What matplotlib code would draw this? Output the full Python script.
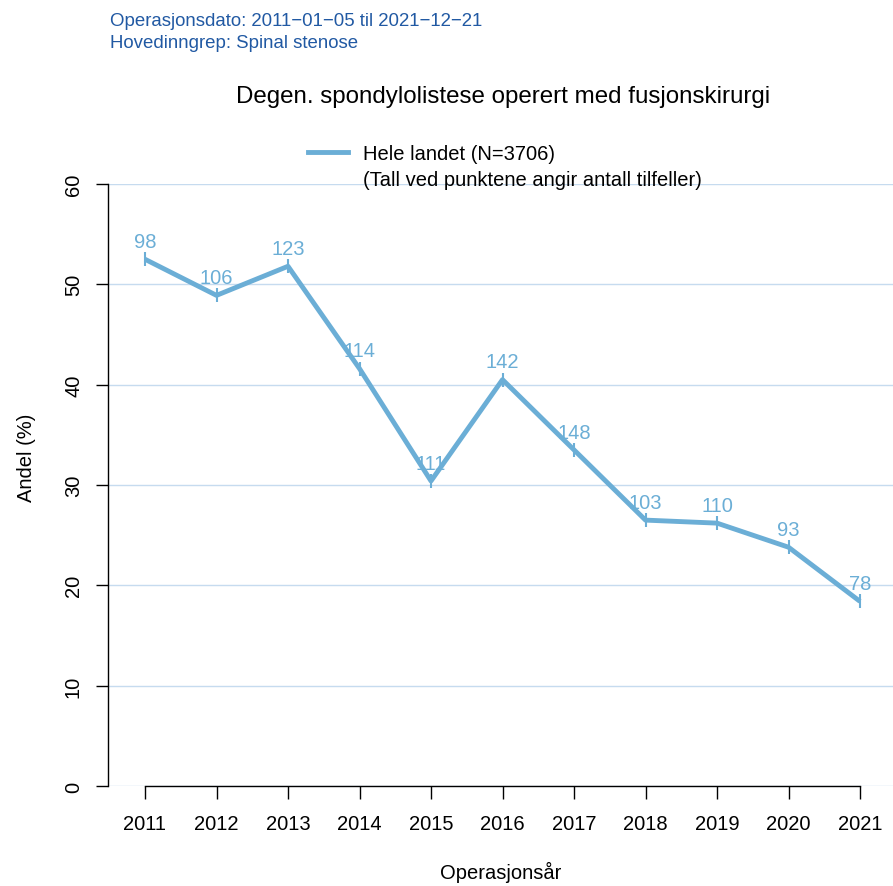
import numpy as np
import matplotlib

matplotlib.use("Agg")
from matplotlib import pyplot as plt

plt.rcParams["font.family"] = ["Liberation Sans", "DejaVu Sans"]

years = [2011, 2012, 2013, 2014, 2015, 2016, 2017, 2018, 2019, 2020, 2021]
andel = [52.5, 48.9, 51.8, 41.6, 30.4, 40.5, 33.5, 26.5, 26.2, 23.8, 18.4]
antall = [98, 106, 123, 114, 111, 142, 148, 103, 110, 93, 78]
yticks = [0, 10, 20, 30, 40, 50, 60]

line_col = "#6baed6"
grid_col = "#c6dbef"
W, H = 893, 887

fig = plt.figure(figsize=(W / 100, H / 100), dpi=100)
ax = fig.add_axes([108 / W, (H - 787) / H, (W - 108) / W, (787 - 185) / H])

for t in yticks:
    ax.axhline(t, color=grid_col, lw=1.0, zorder=0)

ax.plot(years, andel, color=line_col, lw=3.5, marker="|", ms=10, mew=1.5,
        solid_capstyle="butt", zorder=3)
for x, y, n in zip(years, andel, antall):
    ax.annotate(str(n), (x, y), xytext=(0, 6), textcoords="offset points",
                ha="center", va="bottom", color=line_col, fontsize=14.5, zorder=4)

ax.set_xlim(2011 - 37 / 71.5, 2011 - 37 / 71.5 + (W - 108) / 71.5)
ax.set_ylim(0, 60)
ax.set_xticks(years)
ax.set_yticks(yticks)
ax.set_yticklabels([str(t) for t in yticks], rotation=90, va="center")
for s in ["top", "right"]:
    ax.spines[s].set_visible(False)
ax.spines["bottom"].set_bounds(years[0], years[-1])
ax.spines["left"].set_bounds(0, 60)
for s in ["bottom", "left"]:
    ax.spines[s].set_linewidth(1.0)
ax.tick_params(axis="both", length=9, width=1.0, labelsize=14.5, direction="out")
ax.tick_params(axis="x", pad=11)
ax.tick_params(axis="y", pad=9)
ax.patch.set_visible(False)

ax.set_xlabel("Operasjonsår", fontsize=14.5, labelpad=20)
ax.set_ylabel("Andel (%)", fontsize=14.5, labelpad=20, y=(787 - 458) / 602)

fig.text(110 / W, 1 - 22 / H, "Operasjonsdato: 2011\u221201\u221205 til 2021\u221212\u221221",
         color="#2159a3", fontsize=13.4, va="center")
fig.text(110 / W, 1 - 43 / H, "Hovedinngrep: Spinal stenose",
         color="#2159a3", fontsize=13.4, va="center")
fig.text(503 / W, 1 - 97 / H, "Degen. spondylolistese operert med fusjonskirurgi",
         fontsize=17.4, ha="center", va="center")

# legend drawn by hand (R style)
fig.add_artist(plt.Line2D([308 / W, 348 / W], [1 - 153 / H, 1 - 153 / H],
                          color=line_col, lw=3.5, transform=fig.transFigure))
fig.text(363 / W, 1 - 154 / H, "Hele landet (N=3706)", fontsize=14.5, va="center")
fig.text(363 / W, 1 - 180 / H, "(Tall ved punktene angir antall tilfeller)",
         fontsize=14.5, va="center")

fig.savefig("out.png", dpi=100)
